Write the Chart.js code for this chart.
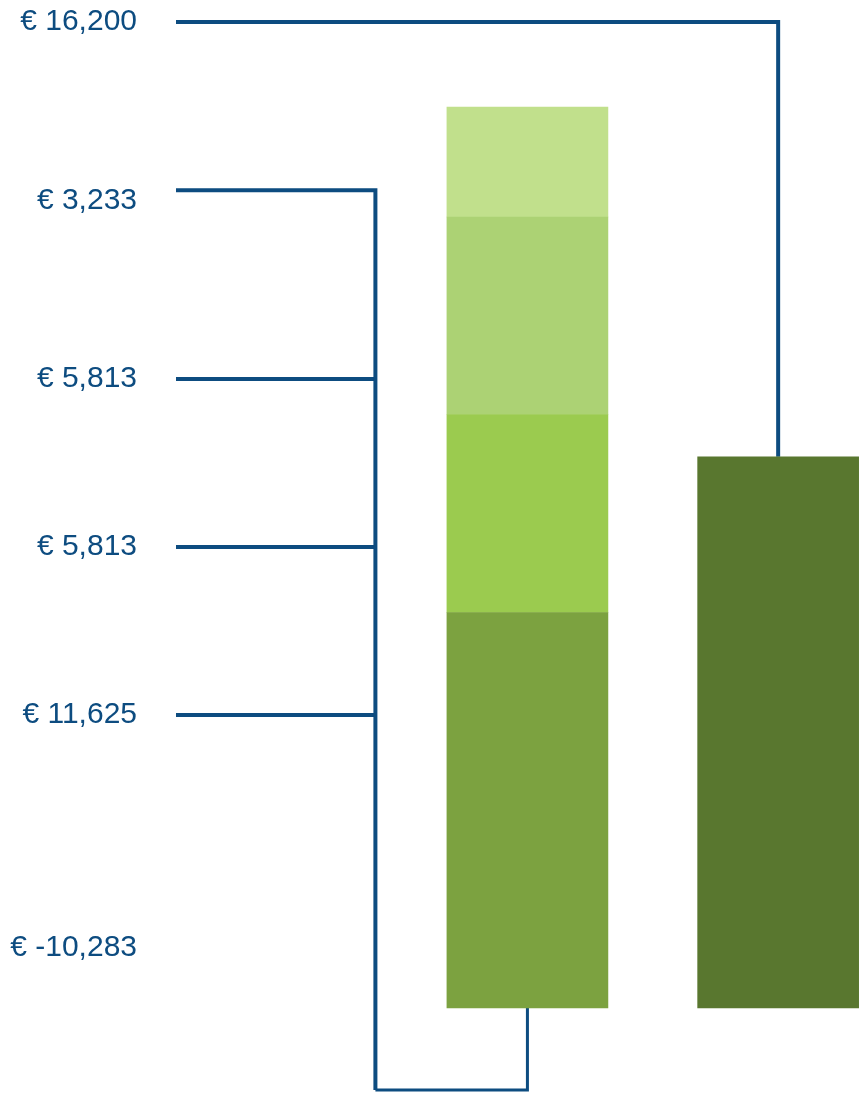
<!DOCTYPE html>
<html>
<head>
<meta charset="utf-8">
<script src="https://cdn.jsdelivr.net/npm/chart.js@4/dist/chart.umd.min.js"></script>
<style>
  html, body { margin: 0; padding: 0; background: #fff; }
  #wrap { width: 867px; height: 1093px; }
</style>
</head>
<body>
<div id="wrap"><canvas id="grafik"></canvas></div>
<script>
// segment values of the stacked bar, bottom to top
var segmentValues = [11625, 5813, 5813, 3233];
var segmentColors = ['#7ca240', '#9bcb4f', '#acd274', '#c1e08c'];
var totalValue = 16200;

// left labels, top to bottom, and where they sit on the value axis
var tickLabels = ['€ 16,200', '€ 3,233', '€ 5,813', '€ 5,813', '€ 11,625', '€ -10,283'];
var tickAt = [28980, 23720, 18490, 13550, 8610, 1760];
// connector lines leave the labels at these heights
var lineAt = [28980, 24040, 18490, 13550, 8610];
var bracketBottom = -2410;

// horizontal slots (x axis units)
var xLabel = 0, xBracket = 1.01, xStack = 1.78, xTotal = 3.05;
var lineColor = '#0d4c80';

var datasets = [];
var lo = 0;
for (var i = 0; i < segmentValues.length; i++) {
  datasets.push({
    type: 'bar',
    data: [{x: xStack, y: [lo, lo + segmentValues[i]]}],
    backgroundColor: segmentColors[i],
    barThickness: 161,
    grouped: false,
    borderWidth: 0
  });
  lo += segmentValues[i];
}
datasets.push({
  type: 'bar',
  data: [{x: xTotal, y: [0, totalValue]}],
  backgroundColor: '#59772f',
  barThickness: 161,
  grouped: false,
  borderWidth: 0
});

function cizgi(pts, kalinlik) {
  return {
    type: 'line',
    data: pts,
    borderColor: lineColor,
    borderWidth: kalinlik || 4,
    pointRadius: 0,
    fill: false,
    tension: 0,
    clip: false,
    borderJoinStyle: 'miter'
  };
}
// top connector: total label -> total bar
datasets.push(cizgi([{x: xLabel, y: lineAt[0]}, {x: xTotal, y: lineAt[0]}, {x: xTotal, y: totalValue}]));
// bracket: segment labels -> stacked bar
datasets.push(cizgi([{x: xLabel, y: lineAt[1]}, {x: xBracket, y: lineAt[1]}, {x: xBracket, y: bracketBottom}]));
datasets.push(cizgi([{x: xBracket, y: bracketBottom}, {x: xStack, y: bracketBottom}, {x: xStack, y: 0}], 3));
for (var k = 2; k < lineAt.length; k++) {
  datasets.push(cizgi([{x: xLabel, y: lineAt[k]}, {x: xBracket, y: lineAt[k]}]));
}

new Chart(document.getElementById('grafik'), {
  type: 'bar',
  data: { datasets: datasets },
  options: {
    responsive: true,
    maintainAspectRatio: false,
    animation: false,
    layout: { padding: 0, autoPadding: false },
    plugins: { legend: { display: false }, tooltip: { enabled: false } },
    scales: {
      x: {
        type: 'linear',
        min: 0,
        max: 3.5,
        offset: false,
        display: false
      },
      y: {
        type: 'linear',
        min: -2498,
        max: 29629,
        grid: { display: false, drawTicks: false },
        border: { display: false },
        afterBuildTicks: function(scale) {
          scale.ticks = tickAt.map(function(v) { return {value: v}; });
        },
        afterFit: function(scale) {
          scale.width = 176;
          scale.paddingTop = 0;
          scale.paddingBottom = 0;
        },
        ticks: {
          autoSkip: false,
          padding: 39,
          color: '#0d4c80',
          font: { family: 'Liberation Sans, Arial, sans-serif', size: 30 },
          callback: function(v, i) { return tickLabels[i]; }
        }
      }
    }
  }
});
</script>
</body>
</html>
